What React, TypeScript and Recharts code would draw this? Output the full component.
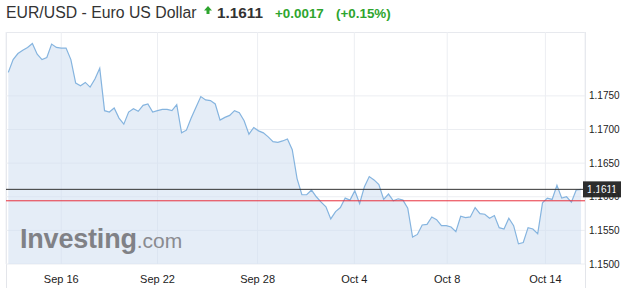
import React from "react"
import { Area, CartesianGrid, ComposedChart, ReferenceLine, XAxis, YAxis } from "recharts"

// EUR/USD closes, roughly every 6 hours
const closeValues = [
  1.1785, 1.1804, 1.1813, 1.1818, 1.1822, 1.1828, 1.1812, 1.1804, 1.1807, 1.1827,
  1.1822, 1.1821, 1.1821, 1.1804, 1.1769, 1.1765, 1.177, 1.1763, 1.1775, 1.1791,
  1.1728, 1.1726, 1.1732, 1.1717, 1.1708, 1.1726, 1.1731, 1.1727, 1.1736, 1.1738,
  1.1726, 1.1728, 1.173, 1.173, 1.1728, 1.1737, 1.1695, 1.1699, 1.1717, 1.1733,
  1.1749, 1.1744, 1.1743, 1.1738, 1.1714, 1.1718, 1.1721, 1.1728, 1.1725, 1.1713,
  1.1693, 1.1703, 1.1698, 1.1695, 1.1689, 1.1682, 1.1681, 1.1683, 1.1686, 1.167,
  1.1627, 1.1603, 1.1603, 1.161, 1.16, 1.1592, 1.1585, 1.1567, 1.1578, 1.1584,
  1.1598, 1.1595, 1.1609, 1.159, 1.1615, 1.163, 1.1625, 1.1618, 1.1596, 1.1604,
  1.1594, 1.1597, 1.1595, 1.1583, 1.154, 1.1544, 1.1558, 1.1559, 1.157, 1.1566,
  1.1557, 1.1557, 1.1555, 1.1548, 1.1571, 1.1569, 1.157, 1.1584, 1.1575, 1.1574,
  1.1568, 1.1572, 1.1554, 1.1552, 1.1568, 1.1557, 1.153, 1.1532, 1.1554, 1.1552,
  1.1545, 1.1591, 1.1598, 1.1596, 1.1617, 1.1598, 1.16, 1.1592, 1.161, 1.1611,
]

const xTickIdx = [11, 31, 51.8, 71.9, 91.2, 111.6]
const xTickLabels = ["Sep 16", "Sep 22", "Sep 28", "Oct 4", "Oct 8", "Oct 14"]
const yTicks = [1.15, 1.155, 1.16, 1.165, 1.17, 1.175]

const lastPrice = 1.1611
const prevClose = 1.1594

const data = closeValues.map((v, i) => ({ i, v }))

const font = "'Liberation Sans', Arial, Helvetica, sans-serif"
const green = "#2ea52e"

function LastPriceTag(props: any) {
  const { viewBox } = props
  if (!viewBox) return null
  const x = viewBox.x + viewBox.width - 2
  const y = viewBox.y
  return (
    <g>
      <rect x={x} y={y - 8} width={38} height={16} fill="#2d2d2d" />
      <text x={x + 19} y={y + 4} textAnchor="middle" fill="#fff" fontSize={10} fontFamily={font}>
        {lastPrice.toFixed(4)}
      </text>
    </g>
  )
}

export default function App() {
  return (
    <div style={{ position: "absolute", left: 0, top: 0, width: 629, height: 288, background: "#fff", fontFamily: font, overflow: "hidden" }}>
      {/* header */}
      <div style={{ position: "absolute", left: 6, top: 4, fontSize: 15.8, color: "#333", whiteSpace: "nowrap" }}>
        EUR/USD - Euro US Dollar
      </div>
      <svg style={{ position: "absolute", left: 204, top: 6 }} width={8} height={9}>
        <polygon points="4,0 8,4.5 5.5,4.5 5.5,8 2.5,8 2.5,4.5 0,4.5" fill={green} />
      </svg>
      <div style={{ position: "absolute", left: 217, top: 4, fontSize: 15.3, fontWeight: "bold", color: "#333" }}>
        {lastPrice.toFixed(4)}
      </div>
      <div style={{ position: "absolute", left: 275, top: 6, fontSize: 13.4, fontWeight: "bold", color: green }}>
        +0.0017
      </div>
      <div style={{ position: "absolute", left: 336, top: 6, fontSize: 13.4, fontWeight: "bold", color: green }}>
        (+0.15%)
      </div>

      {/* frame */}
      <div
        style={{
          position: "absolute",
          left: 6,
          top: 32,
          width: 580,
          height: 256,
          boxSizing: "border-box",
          borderLeft: "1px solid #e3e5ea",
          borderTop: "1px solid #e3e5ea",
          borderRight: "1px solid #e3e5ea",
        }}
      />

      <div style={{ position: "absolute", left: 0, top: 32 }}>
        <ComposedChart width={629} height={256} data={data} margin={{ top: 0, right: 0, left: 6, bottom: 0 }}>
          <CartesianGrid stroke="#eceef2" />
          <XAxis
            dataKey="i"
            type="number"
            domain={[-0.48, 119.83]}
            ticks={xTickIdx}
            tickFormatter={(v: number) => xTickLabels[xTickIdx.indexOf(v)] ?? ""}
            axisLine={false}
            tickLine={false}
            tickSize={0}
            tickMargin={11}
            height={24}
            interval={0}
            tick={{ fontSize: 11, fill: "#222", fontFamily: font }}
          />
          <YAxis
            orientation="right"
            type="number"
            domain={[1.15, 1.1845]}
            ticks={yTicks}
            tickFormatter={(v: number) => v.toFixed(4)}
            axisLine={false}
            tickLine={false}
            tickSize={0}
            tickMargin={4}
            width={44}
            interval={0}
            tick={{ fontSize: 10, fill: "#222", fontFamily: font }}
          />
          <Area
            type="linear"
            dataKey="v"
            stroke="#85b4df"
            strokeWidth={1.2}
            fill="#cfdff0"
            fillOpacity={0.55}
            dot={false}
            activeDot={false}
            isAnimationActive={false}
          />
          <ReferenceLine y={prevClose} stroke="#e8303c" strokeWidth={1} />
          <ReferenceLine y={lastPrice} stroke="#333" strokeWidth={1} label={<LastPriceTag />} />
        </ComposedChart>
      </div>

      {/* watermark */}
      <div style={{ position: "absolute", left: 20, top: 224, whiteSpace: "nowrap", color: "#808186" }}>
        <span style={{ fontSize: 27, fontWeight: "bold", letterSpacing: -0.2 }}>Investing</span>
        <span style={{ fontSize: 21, color: "#8a8b90" }}>.com</span>
      </div>
    </div>
  )
}
